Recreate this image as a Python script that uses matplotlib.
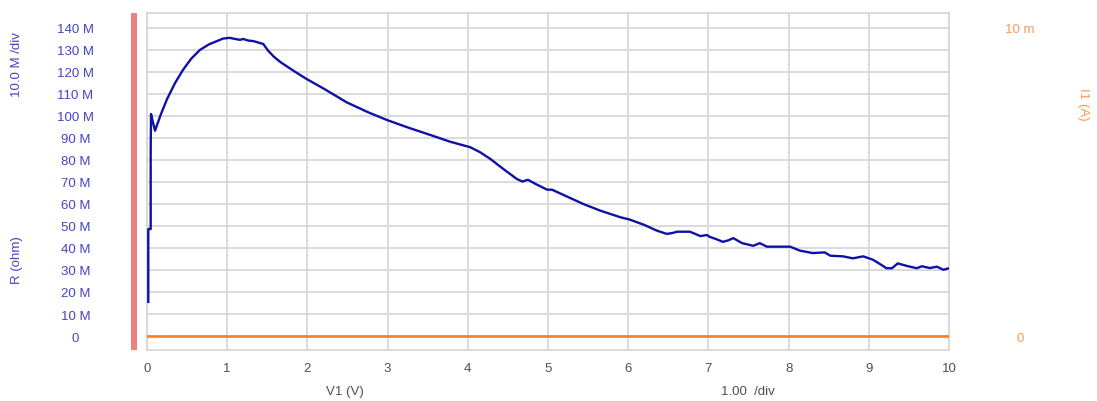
import matplotlib.pyplot as plt
from matplotlib.patches import Rectangle

v1 = [0.016, 0.016, 0.046, 0.046, 0.05, 0.075, 0.10, 0.17, 0.25, 0.35, 0.45,
      0.55, 0.66, 0.77, 0.87, 0.95, 1.03, 1.10, 1.16, 1.20, 1.26, 1.33, 1.45,
      1.51, 1.58, 1.66, 1.70, 1.85, 1.99, 2.2, 2.49, 2.75, 2.99, 3.25, 3.53,
      3.78, 4.03, 4.15, 4.28, 4.44, 4.61, 4.68, 4.75, 4.85, 4.99, 5.05, 5.2,
      5.44, 5.65, 5.9, 6.02, 6.2, 6.35, 6.48, 6.55, 6.61, 6.77, 6.9, 6.98,
      7.02, 7.1, 7.18, 7.25, 7.31, 7.42, 7.56, 7.64, 7.73, 7.89, 8.02, 8.14,
      8.3, 8.45, 8.52, 8.68, 8.8, 8.93, 9.05, 9.14, 9.22, 9.29, 9.36, 9.49,
      9.6, 9.66, 9.76, 9.85, 9.93, 10.0]
r_mohm = [15.5, 48.6, 48.6, 84.2, 100.9, 97.0, 93.3, 100.5, 107.7, 115.0, 121.0,
          126.0, 130.0, 132.5, 134.0, 135.2, 135.5, 135.0, 134.6, 135.0, 134.3, 134.0, 132.7,
          129.7, 127.0, 124.6, 123.6, 120.0, 116.8, 112.5, 106.2, 101.8, 98.2, 94.8, 91.4,
          88.3, 85.8, 83.6, 80.5, 76.0, 71.4, 70.2, 71.0, 69.0, 66.5, 66.5, 64.0,
          60.0, 57.0, 54.0, 52.9, 50.5, 48.0, 46.4, 46.8, 47.4, 47.4, 45.4, 45.9,
          45.0, 44.0, 42.8, 43.5, 44.5, 42.2, 41.0, 42.2, 40.6, 40.6, 40.6, 38.8,
          37.7, 38.0, 36.5, 36.2, 35.3, 36.2, 34.7, 32.7, 30.8, 30.8, 33.0, 31.7,
          30.8, 31.7, 30.9, 31.5, 30.1, 30.8]
# I1 (A) stays at zero across the sweep
v1_i = [0, 10]
i1_ma = [0, 0]

r_ticks = list(range(0, 141, 10))
r_labels = ["0"] + [f"{t} M" for t in r_ticks[1:]]
x_ticks = list(range(0, 11))

BLUE = "#1010a8"
LABEL_BLUE = "#4545c0"
ORANGE = "#ff7f20"
ORANGE_TXT = "#ff9a50"
GRID = "#d8d8d8"

plt.rcParams['font.family'] = ['Liberation Sans', 'DejaVu Sans']

fig = plt.figure(figsize=(10.97, 4.02), dpi=100)
ax = fig.add_axes([147 / 1097, 51 / 402, 802 / 1097, 337 / 402])

ax.plot(v1, [r * 1e6 for r in r_mohm], color=BLUE, lw=1.7, zorder=3)

ax.set_xlim(0, 10)
ax.set_ylim(-6.36e6, 146.8e6)
ax.set_xticks(x_ticks)
ax.set_xticklabels([str(t) for t in x_ticks])
ax.set_yticks([t * 1e6 for t in r_ticks])
ax.set_yticklabels(r_labels)
ax.grid(True, color=GRID, lw=1.3)
ax.set_axisbelow(True)
for s in ax.spines.values():
    s.set_color(GRID)
    s.set_linewidth(1.3)
ax.tick_params(axis='y', length=0, pad=51.5, labelsize=9.5, labelcolor=LABEL_BLUE)
ax.tick_params(axis='x', length=0, pad=8.5, labelsize=9.5, labelcolor="#505050")
for lbl in ax.get_yticklabels():
    lbl.set_horizontalalignment('center')

# right axis for current
ax2 = ax.twinx()
scale = 10e-3 / 140e6
ax2.set_ylim(-6.36e6 * scale, 146.8e6 * scale)
ax2.plot(v1_i, [i * 1e-3 for i in i1_ma], color=ORANGE, lw=1.9, zorder=3)
ax2.set_yticks([0, 10e-3])
ax2.set_yticklabels(["0", "10 m"])
ax2.tick_params(axis='y', length=0, pad=51, labelsize=9.5, labelcolor=ORANGE_TXT)
for lbl in ax2.get_yticklabels():
    lbl.set_horizontalalignment('center')
for s in ax2.spines.values():
    s.set_visible(False)

# red marker bar on the left
fig.add_artist(Rectangle((131 / 1097, 51 / 402), 6 / 1097, 337 / 402,
                         transform=fig.transFigure, color="#f08080", lw=0))

fig.text(17 / 1097, 1 - 65 / 402, "10.0 M /div", rotation=90, ha='center', va='center',
         color=LABEL_BLUE, fontsize=9.5)
fig.text(17 / 1097, 1 - 260 / 402, "R (ohm)", rotation=90, ha='center', va='center',
         color=LABEL_BLUE, fontsize=9.5)
fig.text(1083 / 1097, 1 - 104 / 402, "I1 (A)", rotation=-90, ha='center', va='center',
         color=ORANGE_TXT, fontsize=9.5)
fig.text(345 / 1097, 1 - 392 / 402, "V1 (V)", ha='center', va='center',
         color="#505050", fontsize=9.5)
fig.text(748 / 1097, 1 - 392 / 402, "1.00  /div", ha='center', va='center',
         color="#505050", fontsize=9.5)

fig.savefig("out.png", dpi=100)
